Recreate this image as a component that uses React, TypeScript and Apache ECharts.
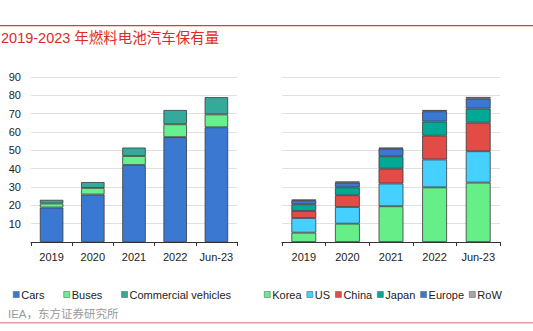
import React, { useEffect, useRef } from "react";
import * as echarts from "echarts";

const categories = ["2019", "2020", "2021", "2022", "Jun-23"];
const yTicks = [0, 10, 20, 30, 40, 50, 60, 70, 80, 90];

const cars = [18.8, 25.9, 42.0, 57.2, 62.6];
const buses = [2.2, 3.6, 4.9, 7.0, 7.0];
const commercial = [2.0, 3.2, 4.6, 7.8, 9.4];

const korea = [5.1, 10.0, 19.5, 29.8, 32.4];
const us = [8.0, 9.1, 12.4, 15.2, 17.1];
const china = [3.8, 6.4, 8.1, 13.0, 15.6];
const japan = [3.7, 4.3, 6.8, 7.7, 7.7];
const europe = [2.1, 2.6, 4.1, 5.6, 5.4];
const row = [0.4, 0.6, 0.6, 0.7, 0.9];

const leftSeries = [
  { name: "Cars", data: cars, color: "#3B78D2" },
  { name: "Buses", data: buses, color: "#66F08F" },
  { name: "Commercial vehicles", data: commercial, color: "#35A99A" },
];
const rightSeries = [
  { name: "Korea", data: korea, color: "#66EE88" },
  { name: "US", data: us, color: "#46D0FF" },
  { name: "China", data: china, color: "#E34B47" },
  { name: "Japan", data: japan, color: "#00A896" },
  { name: "Europe", data: europe, color: "#3B78D3" },
  { name: "RoW", data: row, color: "#A6A6A6" },
];

const title = "2019-2023 年燃料电池汽车保有量";
const source = "IEA，东方证券研究所";

export default function App() {
  const ref = useRef<HTMLDivElement>(null);
  useEffect(() => {
    if (!ref.current) return;
    const chart = echarts.init(ref.current, null, { renderer: "svg" });
    const font = "Liberation Sans, Arial, sans-serif";
    const xAxisBase = {
      type: "category",
      data: categories,
      axisLine: { lineStyle: { color: "#333", width: 1 } },
      axisTick: { show: true, length: 4, lineStyle: { color: "#333" } },
      axisLabel: { color: "#222", fontSize: 11, fontFamily: font, margin: 9, interval: 0 },
    };
    const yAxisBase = {
      type: "value",
      min: yTicks[0],
      max: yTicks[yTicks.length - 1],
      interval: 10,
      axisLine: { show: false },
      axisTick: { show: false },
      splitLine: { lineStyle: { color: "#E0E0E0", width: 1 } },
    };
    const mk = (s: any, idx: number, stack: string) => ({
      type: "bar",
      name: s.name,
      data: s.data,
      stack,
      xAxisIndex: idx,
      yAxisIndex: idx,
      barWidth: "57%",
      itemStyle: { color: s.color, borderColor: "#3a3a3a", borderWidth: 0.8 },
    });
    const legendBase = {
      orient: "horizontal",
      top: 289,
      itemWidth: 6,
      itemHeight: 6,
      icon: "rect",
      itemStyle: { borderWidth: 0.5, borderColor: "#555" },
      textStyle: { fontSize: 11, color: "#222", fontFamily: font, padding: [0, 0, 0, -3] },
      padding: 0,
    };
    chart.setOption({
      animation: false,
      textStyle: { fontFamily: font },
      grid: [
        { left: 31, right: 296, top: 77, bottom: 89 },
        { left: 282, right: 33, top: 77, bottom: 89 },
      ],
      xAxis: [
        { ...xAxisBase, gridIndex: 0 },
        { ...xAxisBase, gridIndex: 1 },
      ],
      yAxis: [
        {
          ...yAxisBase,
          gridIndex: 0,
          axisLabel: {
            color: "#222",
            fontSize: 11,
            fontFamily: font,
            margin: 10,
            formatter: (v: number) => (v === 0 ? "" : String(v)),
          },
        },
        { ...yAxisBase, gridIndex: 1, axisLabel: { show: false } },
      ],
      legend: [
        { ...legendBase, left: 13, itemGap: 19, data: leftSeries.map((s) => s.name) },
        { ...legendBase, left: 264, itemGap: 5, data: rightSeries.map((s) => s.name) },
      ],
      series: [
        ...leftSeries.map((s) => mk(s, 0, "left")),
        ...rightSeries.map((s) => mk(s, 1, "right")),
      ],
      graphic: [
        {
          type: "rect",
          shape: { x: 0, y: 25, width: 533, height: 1.2 },
          style: { fill: "#E03A34" },
        },
        {
          type: "text",
          left: 1,
          top: 31,
          style: { text: title, fill: "#E0282A", fontSize: 14.5, fontFamily: "Liberation Sans, Noto Sans CJK SC, sans-serif" },
        },
        {
          type: "text",
          left: 8,
          top: 308,
          style: { text: source, fill: "#999", fontSize: 11.5, fontFamily: "Liberation Sans, Noto Sans CJK SC, sans-serif" },
        },
        {
          type: "rect",
          shape: { x: 0, y: 322, width: 533, height: 1.5 },
          style: { fill: "#F09A98" },
        },
      ],
    });
    return () => chart.dispose();
  }, []);
  return (
    <div
      ref={ref}
      style={{ position: "fixed", left: 0, top: 0, width: 533, height: 331, background: "#fff" }}
    />
  );
}
